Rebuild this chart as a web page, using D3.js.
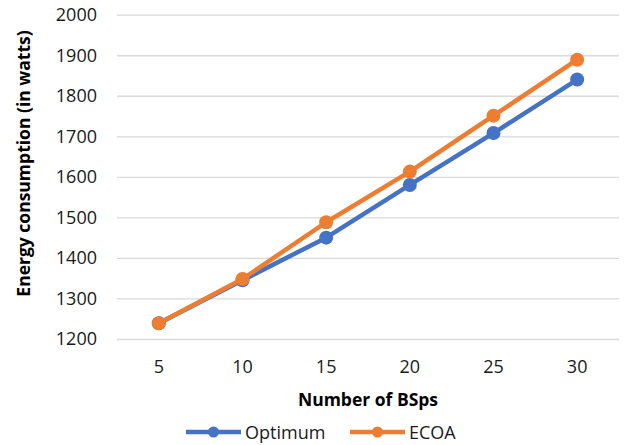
<!DOCTYPE html>
<html>
<head>
<meta charset="utf-8">
<script src="https://cdn.jsdelivr.net/npm/d3@7"></script>
<style>
  body { margin: 0; background: #fff; }
  text { font-family: "Open Sans", sans-serif; }
</style>
</head>
<body>
<div id="container"></div>
<script>
// chart data
var categories = ["5", "10", "15", "20", "25", "30"];
var optimum = [1239, 1345, 1450, 1580, 1708, 1840];
var ecoa = [1239, 1348, 1488, 1613, 1751, 1889];
var yTicks = [1200, 1300, 1400, 1500, 1600, 1700, 1800, 1900, 2000];
var seriesNames = ["Optimum", "ECOA"];
var colors = ["#4472C4", "#ED7D31"];

var W = 627, H = 445;
var margin = {top: 14.7, right: 8, bottom: 106, left: 117},
    width = W - margin.left - margin.right,
    height = H - margin.top - margin.bottom;

var svg = d3.select("#container").append("svg")
    .attr("width", W)
    .attr("height", H)
  .append("g")
    .attr("transform", "translate(" + margin.left + "," + margin.top + ")");

var x = d3.scaleBand()
    .domain(categories)
    .range([0, width]);

var y = d3.scaleLinear()
    .domain([1200, 2000])
    .range([height, 0]);

// gridlines + y labels
var yAxis = svg.append("g")
    .call(d3.axisLeft(y).tickValues(yTicks).tickSize(-width).tickPadding(20).tickFormat(d3.format("d")));
yAxis.select(".domain").remove();
yAxis.selectAll(".tick line").attr("stroke", "#D9D9D9").attr("stroke-width", 1.3);
yAxis.selectAll(".tick text")
    .attr("fill", "#1a1a1a")
    .style("font-size", "18px");

// x labels
var xAxis = svg.append("g")
    .attr("transform", "translate(0," + height + ")")
    .call(d3.axisBottom(x).tickSize(0).tickPadding(21));
xAxis.select(".domain").remove();
xAxis.selectAll(".tick text")
    .attr("fill", "#1a1a1a")
    .style("font-size", "18px");

var cx = function(d, i) { return x(categories[i]) + x.bandwidth() / 2; };

var line = d3.line()
    .x(function(d, i) { return cx(d, i); })
    .y(function(d) { return y(d); });

[optimum, ecoa].forEach(function(vals, s) {
  svg.append("path")
      .datum(vals)
      .attr("d", line)
      .attr("fill", "none")
      .attr("stroke", colors[s])
      .attr("stroke-width", 4.5)
      .attr("stroke-linejoin", "round");
  svg.selectAll(".dot" + s)
      .data(vals)
    .enter().append("circle")
      .attr("cx", cx)
      .attr("cy", function(d) { return y(d); })
      .attr("r", 7)
      .attr("fill", colors[s]);
});

// axis titles
svg.append("text")
    .attr("x", width / 2)
    .attr("y", height + 67)
    .attr("text-anchor", "middle")
    .attr("fill", "#000")
    .style("font-size", "17.5px")
    .style("font-weight", "bold")
    .text("Number of BSps");

svg.append("text")
    .attr("transform", "rotate(-90)")
    .attr("x", -(163.5 - margin.top))
    .attr("y", -margin.left + 29.5)
    .attr("text-anchor", "middle")
    .attr("fill", "#000")
    .style("font-size", "17.5px")
    .style("font-weight", "bold")
    .text("Energy consumption (in watts)");

// legend
var legendX = [186, 350];
var legend = d3.select("svg").selectAll(".legend")
    .data(seriesNames)
  .enter().append("g")
    .attr("class", "legend")
    .attr("transform", function(d, i) { return "translate(" + legendX[i] + ",432)"; });

legend.append("line")
    .attr("x1", 0).attr("x2", 55)
    .attr("stroke", function(d, i) { return colors[i]; })
    .attr("stroke-width", 4.5);
legend.append("circle")
    .attr("cx", 27.5)
    .attr("r", 5.5)
    .attr("fill", function(d, i) { return colors[i]; });
legend.append("text")
    .attr("x", 59)
    .attr("y", 6.5)
    .attr("fill", "#1a1a1a")
    .style("font-size", "18px")
    .text(function(d) { return d; });
</script>
</body>
</html>
